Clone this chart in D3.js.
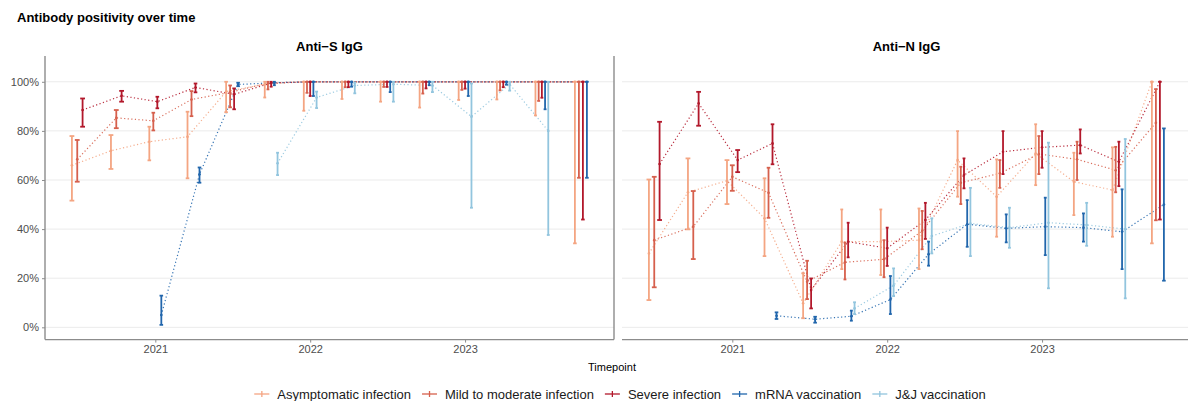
<!DOCTYPE html>
<html>
<head>
<meta charset="utf-8">
<script src="https://cdn.jsdelivr.net/npm/d3@7"></script>
<style>
  body { margin: 0; background: #fff; }
  text { font-family: "Liberation Sans", Arial, sans-serif; }
</style>
</head>
<body>
<script>
// Canvas
var width = 1188;
var height = 401;

// Categories
var groups = ["Asymptomatic infection", "Mild to moderate infection", "Severe infection", "mRNA vaccination", "J&J vaccination"];
var groupColors = ["#F4A582", "#D6604D", "#B2182B", "#2166AC", "#92C5DE"];
var timepoints = ["2020-07-01", "2020-10-01", "2021-01-01", "2021-04-01", "2021-07-01", "2021-10-01", "2022-01-01",
                  "2022-04-01", "2022-07-01", "2022-10-01", "2023-01-01", "2023-04-01", "2023-07-01", "2023-10-01"];
var panelTitles = ["Anti\u2212S IgG", "Anti\u2212N IgG"];
var yTicks = [0, 20, 40, 60, 80, 100];
var xTicks = ["2021-01-01", "2022-01-01", "2023-01-01"];

// Positivity in %, [estimate, lower CI, upper CI] per timepoint (null = no data)
var antiS_asym = [[66, 51.6, 77.9], [71.9, 64.5, 78.3], [75.6, 68, 81.7], [77.6, 60.7, 87.8], [96, 87.6, 100], [99, 93.6, 100], [100, 88.2, 100],
                  [100, 93, 100], [100, 91.9, 100], [100, 89.5, 100], [100, 92.6, 100], [100, 92.8, 100], [100, 86.3, 100], [100, 34.2, 100]];
var antiS_mild = [[68.4, 59.3, 76.3], [85.3, 81.1, 88.5], [84.1, 80.2, 87.4], [92.8, 86, 96.2], [95.7, 89.6, 98.5], [99.5, 96.9, 100], [100, 95.5, 100],
                  [100, 97.8, 100], [100, 97.9, 100], [100, 95.2, 100], [100, 96.7, 100], [100, 96.5, 100], [100, 92.2, 100], [100, 60.9, 100]];
var antiS_severe = [[88.5, 81.7, 93.2], [94.3, 91.9, 96.3], [91.9, 89.2, 93.9], [97.7, 95.7, 99.3], [94.9, 88.8, 97.3], [99.5, 98, 100], [100, 94.2, 100],
                    [100, 97.8, 100], [100, 97.9, 100], [100, 97.3, 100], [100, 97.2, 100], [100, 97.8, 100], [100, 93.5, 100], [100, 43.9, 100]];
var antiS_mrna = [null, null, [5, 1, 12.9], [62.3, 58.9, 65.1], [98.9, 98.2, 99.6], [99.6, 98.6, 100], [100, 94.2, 100],
                  [100, 98, 100], [100, 95.8, 100], [100, 98.6, 100], [100, 94.2, 100], [100, 98.8, 100], [100, 88.8, 100], [100, 60.9, 100]];
var antiS_jj = [null, null, null, null, null, [66.8, 62, 71.1], [93.6, 89.3, 96],
                [98.5, 95.3, 99.6], [99, 91.9, 100], [98.5, 95.8, 100], [85.8, 48.7, 99.3], [99, 96.4, 100], [80, 37.6, 100], null];

var antiN_asym = [[30.1, 11.1, 60.2], [55, 39.9, 68.8], [59.7, 50.2, 68.1], [44.4, 29, 60.7], [9.8, 3.7, 22], [34.9, 23.7, 48], [34.9, 21.3, 48],
                  [35.5, 23.7, 48.4], [68.1, 53.2, 79.9], [53.2, 36.9, 68.4], [70.8, 57.9, 82.7], [59.3, 45.7, 71.1], [55.9, 36.9, 73.3], [100, 34.2, 100]];
var antiN_mild = [[35.5, 16.3, 61.3], [41, 27.8, 55.5], [61.3, 55.6, 66], [54.8, 44.6, 65], [18.6, 11.5, 27.1], [26.5, 19.5, 34.5], [27.7, 20.4, 35.5],
                  [39.3, 31.8, 47.4], [58.9, 50.2, 65.4], [62.7, 56.8, 68.1], [70.6, 62.4, 77.9], [68.4, 60, 75.6], [64, 55, 73.5], [83.3, 43.6, 97]];
var antiN_severe = [[66.5, 43.7, 83.7], [91.2, 82.1, 95.9], [68.1, 63.2, 72.2], [74.9, 66.4, 82.7], [15.2, 7.7, 19.9], [34.9, 28.5, 42.6], [32.2, 25, 40.6],
                    [43.7, 36, 50.7], [62, 56.6, 68.8], [71.5, 62.4, 79.9], [73.3, 65, 79.9], [74.2, 70.8, 80.6], [67.4, 57.5, 75.6], [100, 43.9, 100]];
var antiN_mrna = [null, null, null, [4.7, 3.4, 6.1], [3.3, 1.9, 4.3], [4.5, 2.7, 6.8], [11.3, 5.4, 20.9],
                  [29.8, 25.1, 34.9], [42, 32.8, 51.8], [40.3, 34.6, 46], [41, 29.4, 52.8], [40.6, 34.9, 46.4], [38.9, 23.7, 56.2], [50, 19, 81]];
var antiN_jj = [null, null, null, null, null, [7.7, 5.4, 10.2], [17, 12.7, 24],
                [37.2, 30.1, 44.4], [42.3, 29, 56.8], [40.6, 32.4, 48.7], [42.6, 15.9, 75.2], [41.7, 33.2, 50.7], [40, 11.8, 76.7], null];

var panelData = [
  [antiS_asym, antiS_mild, antiS_severe, antiS_mrna, antiS_jj],
  [antiN_asym, antiN_mild, antiN_severe, antiN_mrna, antiN_jj]
];

// Layout
var parse = d3.utcParse("%Y-%m-%d");
var panelLeft = [45, 622];
var panelW = 569;
var plotTop = 56, plotBottom = 339.6;
var dodgeWidth = 16;

var x = d3.scaleUtc()
  .domain([parse("2020-04-16"), parse("2023-12-18")])
  .range([0, panelW]);

var y = d3.scaleLinear()
  .domain([-5, 110.5])
  .range([plotBottom, plotTop]);

var svg = d3.select("body")
  .append("svg")
  .attr("width", width)
  .attr("height", height);

// Title
svg.append("text")
  .attr("x", 17)
  .attr("y", 22)
  .attr("font-size", 13)
  .attr("font-weight", "bold")
  .attr("fill", "#000")
  .text("Antibody positivity over time");

panelData.forEach(function(series, p) {
  var g = svg.append("g")
    .attr("transform", "translate(" + panelLeft[p] + ",0)");

  // strip title
  g.append("text")
    .attr("x", panelW / 2)
    .attr("y", 50.5)
    .attr("text-anchor", "middle")
    .attr("font-size", 13)
    .attr("font-weight", "bold")
    .attr("fill", "#000")
    .text(panelTitles[p]);

  // gridlines
  g.selectAll(".grid")
    .data(yTicks)
    .enter()
    .append("line")
    .attr("x1", 0)
    .attr("x2", panelW)
    .attr("y1", function(d) { return y(d); })
    .attr("y2", function(d) { return y(d); })
    .attr("stroke", "#ebebeb")
    .attr("stroke-width", 1);

  // dodge positions per timepoint
  var points = series.map(function() { return []; });
  timepoints.forEach(function(t, i) {
    var present = [];
    series.forEach(function(s, k) { if (s[i]) present.push(k); });
    var n = present.length;
    present.forEach(function(k, j) {
      var v = series[k][i];
      points[k].push({
        group: k,
        x: x(parse(t)) + (j - (n - 1) / 2) * dodgeWidth / n,
        cap: 0.45 * dodgeWidth / n,
        est: v[0], lo: v[1], hi: v[2]
      });
    });
  });

  // dotted connecting lines
  var line = d3.line()
    .x(function(d) { return d.x; })
    .y(function(d) { return y(d.est); });

  g.selectAll(".trend")
    .data(points)
    .enter()
    .append("path")
    .attr("d", line)
    .attr("fill", "none")
    .attr("stroke", function(d, k) { return groupColors[k]; })
    .attr("stroke-width", 1.2)
    .attr("stroke-dasharray", "1.2,2.4")
    .attr("opacity", 0.9);

  // error bars
  var all = d3.merge(points);
  var bars = g.selectAll(".bar")
    .data(all)
    .enter()
    .append("g")
    .attr("stroke", function(d) { return groupColors[d.group]; })
    .attr("stroke-width", 1.8);

  bars.append("line")
    .attr("x1", function(d) { return d.x; })
    .attr("x2", function(d) { return d.x; })
    .attr("y1", function(d) { return y(d.lo); })
    .attr("y2", function(d) { return y(d.hi); });

  bars.append("line")
    .attr("x1", function(d) { return d.x - d.cap; })
    .attr("x2", function(d) { return d.x + d.cap; })
    .attr("y1", function(d) { return y(d.lo); })
    .attr("y2", function(d) { return y(d.lo); });

  bars.append("line")
    .attr("x1", function(d) { return d.x - d.cap; })
    .attr("x2", function(d) { return d.x + d.cap; })
    .attr("y1", function(d) { return y(d.hi); })
    .attr("y2", function(d) { return y(d.hi); });

  g.selectAll(".pt")
    .data(all)
    .enter()
    .append("circle")
    .attr("cx", function(d) { return d.x; })
    .attr("cy", function(d) { return y(d.est); })
    .attr("r", 1.3)
    .attr("fill", function(d) { return groupColors[d.group]; });

  // x axis
  var xAxis = g.append("g")
    .attr("transform", "translate(0," + plotBottom + ")")
    .call(d3.axisBottom(x)
      .tickValues(xTicks.map(parse))
      .tickFormat(d3.utcFormat("%Y"))
      .tickSize(3)
      .tickPadding(3));
  xAxis.select(".domain").remove();
  xAxis.selectAll("line").attr("stroke", "#8c8c8c");
  xAxis.selectAll("text")
    .attr("font-size", 11)
    .attr("fill", "#4d4d4d")
    .style("font-family", "'Liberation Sans', Arial, sans-serif");

  var xEnd = p === 0 ? panelW : width - panelLeft[p];
  g.append("line")
    .attr("x1", 0)
    .attr("x2", xEnd)
    .attr("y1", plotBottom)
    .attr("y2", plotBottom)
    .attr("stroke", "#8c8c8c")
    .attr("stroke-width", 1.4);

  if (p === 0) {
    var yAxis = g.append("g")
      .call(d3.axisLeft(y)
        .tickValues(yTicks)
        .tickFormat(function(d) { return d + "%"; })
        .tickSize(3)
        .tickPadding(3));
    yAxis.select(".domain").remove();
    yAxis.selectAll("line").attr("stroke", "#8c8c8c");
    yAxis.selectAll("text")
      .attr("font-size", 11)
      .attr("fill", "#4d4d4d")
      .style("font-family", "'Liberation Sans', Arial, sans-serif");

    g.append("line")
      .attr("x1", 0).attr("x2", 0)
      .attr("y1", plotTop).attr("y2", plotBottom)
      .attr("stroke", "#8c8c8c")
      .attr("stroke-width", 1.4);
    g.append("line")
      .attr("x1", panelW).attr("x2", panelW)
      .attr("y1", plotTop).attr("y2", plotBottom)
      .attr("stroke", "#8c8c8c")
      .attr("stroke-width", 1.4);
  }
});

// x axis title
svg.append("text")
  .attr("x", 612)
  .attr("y", 371)
  .attr("text-anchor", "middle")
  .attr("font-size", 11)
  .attr("fill", "#000")
  .text("Timepoint");

// Legend
var legend = svg.append("g");
var lx = 0;
groups.forEach(function(name, k) {
  var it = legend.append("g").attr("transform", "translate(" + lx + ",394)");
  it.append("line")
    .attr("x1", 0).attr("x2", 15)
    .attr("y1", 0).attr("y2", 0)
    .attr("stroke", groupColors[k])
    .attr("stroke-width", 1.3);
  it.append("line")
    .attr("x1", 7.5).attr("x2", 7.5)
    .attr("y1", -3).attr("y2", 3)
    .attr("stroke", groupColors[k])
    .attr("stroke-width", 1.3);
  var t = it.append("text")
    .attr("x", 23)
    .attr("dy", "0.35em")
    .attr("font-size", 13)
    .attr("fill", "#1a1a1a")
    .text(name);
  lx += 23 + t.node().getComputedTextLength() + 11;
});
var legendWidth = lx - 11;
legend.attr("transform", "translate(" + (620 - legendWidth / 2) + ",0)");
</script>
</body>
</html>
